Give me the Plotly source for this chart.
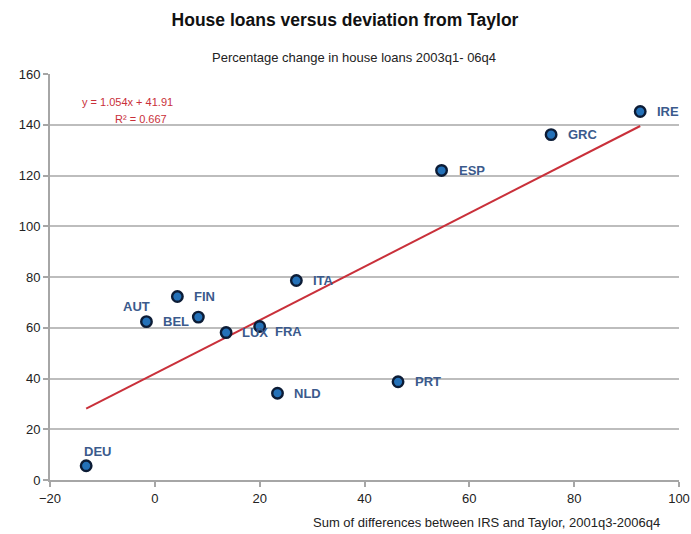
import plotly.graph_objects as go

# ---- data ----
countries = ["IRE", "GRC", "ESP", "ITA", "FIN", "AUT", "BEL", "LUX", "FRA", "NLD", "PRT", "DEU"]
taylor_dev = [92.6, 75.6, 54.7, 27.0, 4.3, -1.6, 8.3, 13.6, 20.0, 23.4, 46.4, -13.1]
loan_change = [145.2, 136.1, 122.0, 78.6, 72.3, 62.4, 64.2, 58.1, 60.5, 34.2, 38.7, 5.6]
trend_slope = 1.054
trend_intercept = 41.91
r_squared = 0.667
y_ticks = [0, 20, 40, 60, 80, 100, 120, 140, 160]
x_ticks = [-20, 0, 20, 40, 60, 80, 100]

# ---- label placement (style) ----
label_style = {
    "AUT": dict(xanchor="center", xshift=-10, yshift=15),
    "BEL": dict(xanchor="right", xshift=-7, yshift=-4),
    "DEU": dict(xanchor="center", xshift=11, yshift=14),
    "FRA": dict(xanchor="left", xshift=13, yshift=-5),
    "LUX": dict(xanchor="left", xshift=14, yshift=0),
}
default_label = dict(xanchor="left", xshift=15, yshift=0)

FONT = "Liberation Sans, Arial, sans-serif"
LABEL_COLOR = "#3b5a8c"
RED = "#c9303a"

L, R, T, B = 50, 12, 74, 54
PW = 691 - L - R
PH = 534 - T - B

fig = go.Figure()

# trendline (Excel linear fit, from its reported coefficients)
x_min, x_max = min(taylor_dev), max(taylor_dev)
fig.add_trace(go.Scatter(
    x=[x_min, x_max],
    y=[trend_slope * x_min + trend_intercept, trend_slope * x_max + trend_intercept],
    mode="lines",
    line=dict(color=RED, width=2),
    hoverinfo="skip",
    showlegend=False,
))

fig.add_trace(go.Scatter(
    x=taylor_dev, y=loan_change, mode="markers",
    marker=dict(size=10.5, color="#2471b8", line=dict(color="#0c1c36", width=2.4)),
    text=countries, showlegend=False,
))

annotations = []
for c, xv, yv in zip(countries, taylor_dev, loan_change):
    s = label_style.get(c, default_label)
    annotations.append(dict(
        x=xv, y=yv, xref="x", yref="y", text="<b>%s</b>" % c, showarrow=False,
        xanchor=s["xanchor"], yanchor="middle", xshift=s["xshift"], yshift=s["yshift"],
        font=dict(family=FONT, size=13, color=LABEL_COLOR),
    ))

annotations += [
    dict(xref="paper", yref="paper", x=(127 - L) / PW, y=(480 - 102) / PH,
         text="y = %.3fx + %.2f" % (trend_slope, trend_intercept), showarrow=False,
         xanchor="center", yanchor="middle",
         font=dict(family=FONT, size=11, color=RED)),
    dict(xref="paper", yref="paper", x=(141 - L) / PW, y=(480 - 119) / PH,
         text="R² = %.3f" % r_squared, showarrow=False,
         xanchor="center", yanchor="middle",
         font=dict(family=FONT, size=11, color=RED)),
    # subtitle
    dict(xref="paper", yref="paper", x=(354 - L) / PW, y=(480 - 57) / PH,
         text="Percentage change in house loans 2003q1- 06q4", showarrow=False,
         xanchor="center", yanchor="middle",
         font=dict(family=FONT, size=13, color="#222222")),
    # x axis title
    dict(xref="paper", yref="paper", x=(662 - L) / PW, y=(480 - 522) / PH,
         text="Sum of differences between IRS and Taylor, 2001q3-2006q4", showarrow=False,
         xanchor="right", yanchor="middle",
         font=dict(family=FONT, size=13, color="#222222")),
]

fig.update_layout(
    width=691, height=534,
    margin=dict(l=L, r=R, t=T, b=B),
    paper_bgcolor="white", plot_bgcolor="white",
    title=dict(text="<b>House loans versus deviation from Taylor</b>",
               x=345 / 691, xanchor="center", y=1 - 20 / 534, yanchor="middle",
               font=dict(family=FONT, size=17.5, color="#111111")),
    annotations=annotations,
    xaxis=dict(range=[-20, 100], tickvals=x_ticks, showgrid=False, zeroline=False,
               showline=True, linecolor="#a6a6a6", linewidth=2,
               ticks="outside", ticklen=5, tickcolor="#a6a6a6", tickwidth=2,
               ticklabeloverflow="allow", automargin=False,
               tickfont=dict(family=FONT, size=13, color="#222222")),
    yaxis=dict(range=[0, 160], tickvals=y_ticks, showgrid=True, gridcolor="#bdbdbd",
               gridwidth=2, zeroline=False, automargin=False,
               showline=True, linecolor="#a6a6a6", linewidth=2,
               ticks="outside", ticklen=5, tickcolor="#a6a6a6", tickwidth=2,
               tickfont=dict(family=FONT, size=13, color="#222222")),
)

fig.write_html("out.html", config={"displayModeBar": False},
               post_script="document.body.style.margin='0';")
